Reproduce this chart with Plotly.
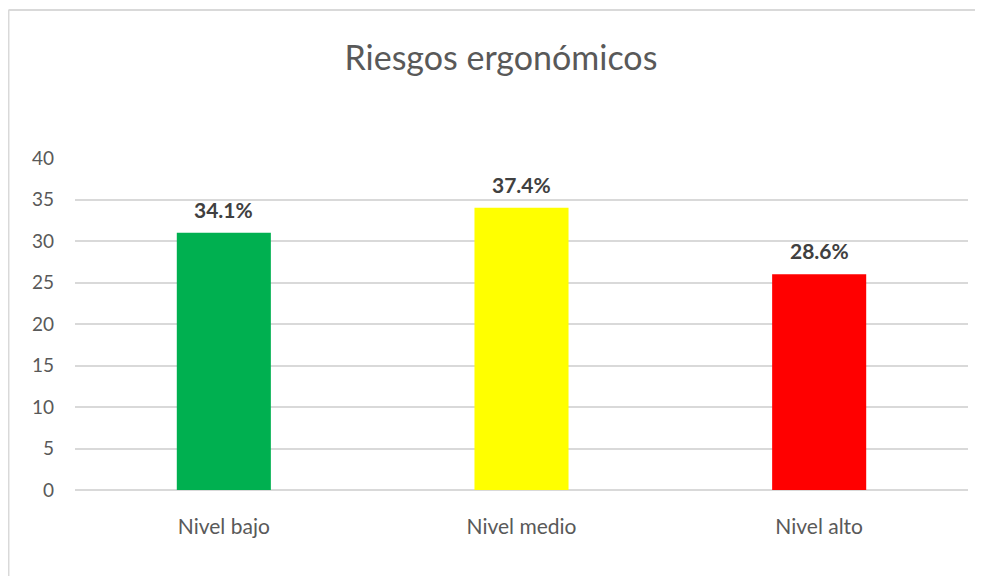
import plotly.graph_objects as go

categories = ["Nivel bajo", "Nivel medio", "Nivel alto"]
counts = [31, 34, 26]
percent_labels = ["34.1%", "37.4%", "28.6%"]
bar_colors = ["#00B050", "#FFFF00", "#FF0000"]
y_ticks = [0, 5, 10, 15, 20, 25, 30, 35, 40]

FONT = "Lato"

fig = go.Figure()
fig.add_trace(go.Bar(
    x=categories, y=counts,
    marker=dict(color=bar_colors, line=dict(width=0)),
    hoverinfo="skip",
))

for c, v, t in zip(categories, counts, percent_labels):
    fig.add_annotation(
        x=c, y=v, text="<b>" + t + "</b>", showarrow=False,
        yanchor="bottom", yshift=9,
        font=dict(family=FONT, size=21, color="#404040"),
    )

# chart border (Excel chart area outline): top and left edges only are visible
border = dict(color="#d9d9d9", width=2)
fig.add_shape(type="line", xref="paper", yref="paper",
              x0=-0.0745, x1=1.0157, y0=1.4458, y1=1.4458,
              line=border, layer="below")
fig.add_shape(type="line", xref="paper", yref="paper",
              x0=-0.0745, x1=-0.0745, y0=-0.3, y1=1.4458,
              line=border, layer="below")

fig.update_layout(
    width=975, height=568,
    margin=dict(l=67, r=15, t=150, b=86),
    paper_bgcolor="white", plot_bgcolor="white",
    showlegend=False,
    bargap=0.684,
    title=dict(text="Riesgos ergonómicos", x=0.477, xref="paper",
               xanchor="center", y=1 - 50 / 568, yanchor="middle",
               yref="container",
               font=dict(family=FONT, size=34, color="#595959")),
    xaxis=dict(showgrid=False, showline=False, ticks="",
               tickfont=dict(family=FONT, size=21, color="#595959"),
               ticklabelstandoff=22),
    yaxis=dict(range=[0, 40], tickvals=y_ticks, showgrid=True,
               gridcolor="#d9d9d9", gridwidth=2, zeroline=True,
               zerolinecolor="#d9d9d9", zerolinewidth=2, showline=False,
               ticks="", tickfont=dict(family=FONT, size=19, color="#595959"),
               ticklabelstandoff=20),
)

fig.write_html("out.html")
